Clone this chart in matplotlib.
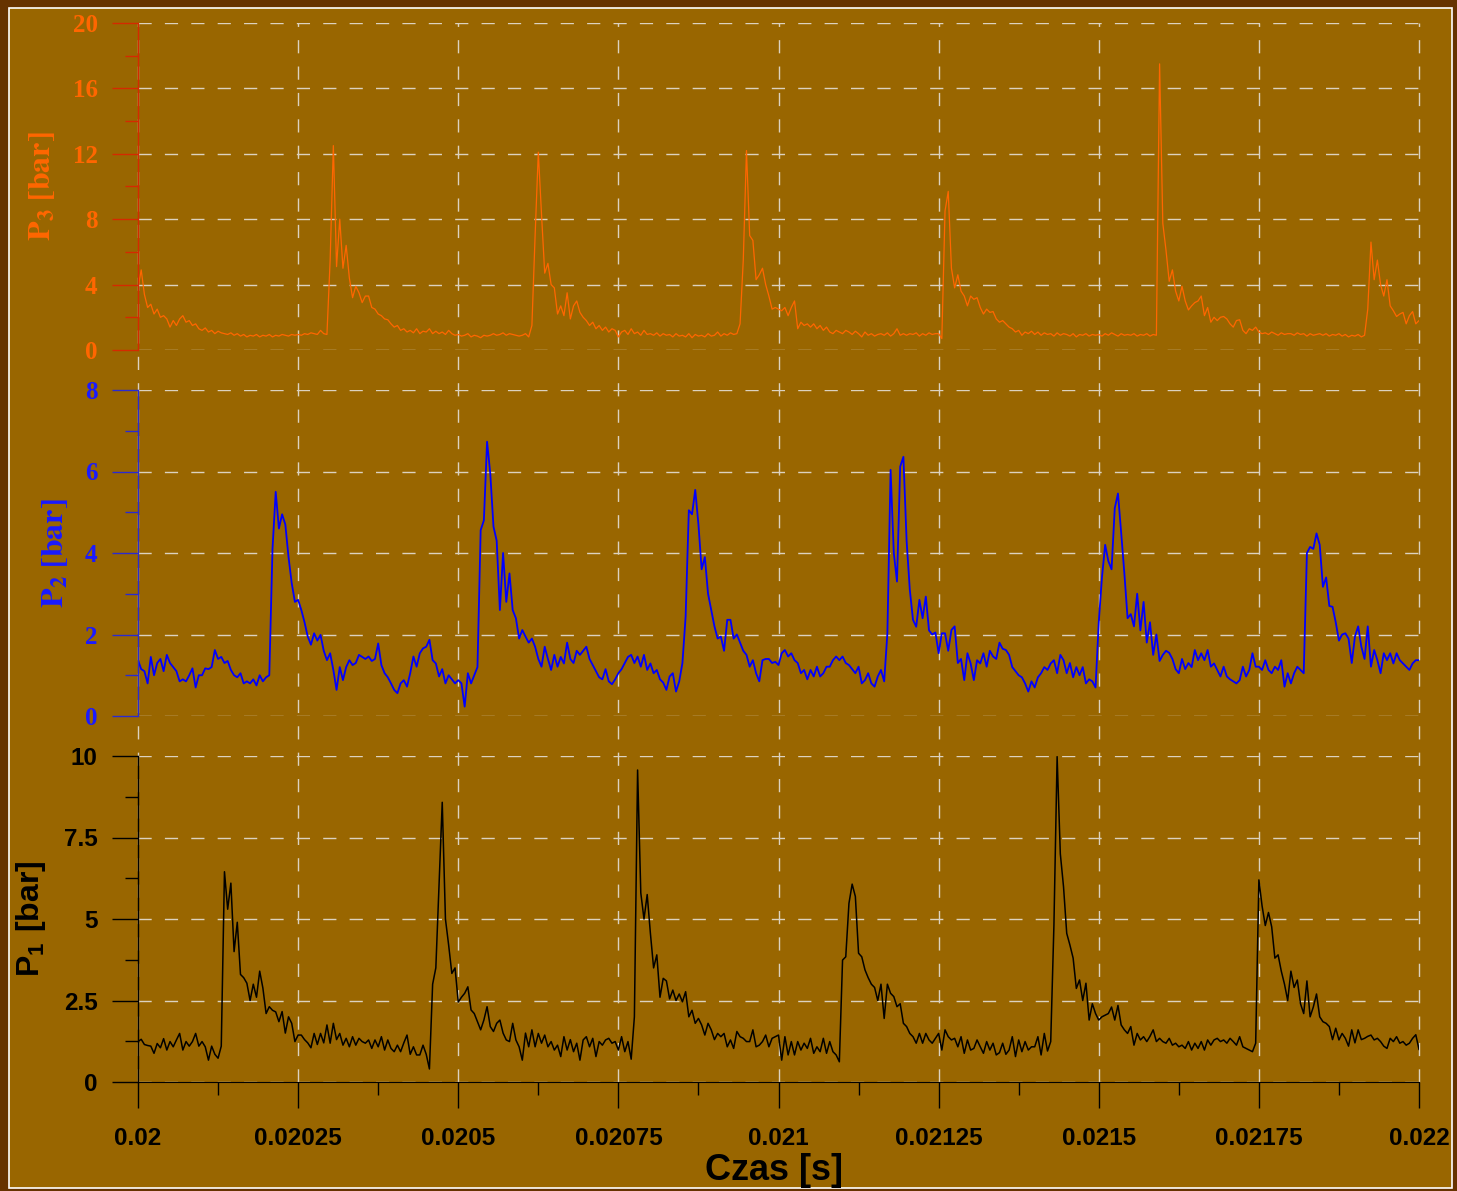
import numpy as np
import matplotlib
matplotlib.use("Agg")
import matplotlib.pyplot as plt
from matplotlib.patches import Rectangle
from matplotlib.ticker import MultipleLocator

# ── data: pressures sampled every 5 µs from t = 0.02 s ─────────────────────
T_START = 0.02
T_STEP = 5e-6

p3_bar = [
    3.8, 4.9, 3.4, 2.6, 2.8, 2.2, 2.5, 2.0, 2.1, 1.9,
    1.4, 1.8, 1.5, 1.9, 2.1, 1.7, 1.8, 1.5, 1.6, 1.3,
    1.2, 1.35, 1.1, 1.2, 1.0, 1.15, 1.05, 1.0, 0.95, 1.05,
    0.9, 1.0, 0.85, 0.95, 0.8, 0.9, 0.85, 0.95, 0.8, 0.9,
    0.85, 0.95, 0.8, 0.9, 0.85, 0.95, 0.9, 0.85, 0.95, 0.9,
    0.95, 0.9, 1.0, 0.95, 1.05, 1.0, 0.95, 1.2, 1.0, 0.95,
    5.5, 12.5, 5.1, 8.0, 5.0, 6.4, 4.4, 3.2, 3.9, 3.5,
    2.9, 3.3, 3.3, 2.6, 2.5, 2.2, 2.1, 1.9, 1.85, 1.6,
    1.4, 1.5, 1.2, 1.3, 1.1, 1.2, 1.05, 1.3, 1.0, 1.15,
    1.1, 1.3, 1.0, 1.15, 1.0, 1.1, 0.95, 1.2, 1.0, 0.9,
    0.95, 0.85, 0.9, 1.0, 0.8, 0.9, 0.85, 0.75, 0.9, 0.85,
    0.9, 1.0, 0.9, 0.95, 1.05, 0.9, 1.0, 0.95, 0.9, 0.85,
    0.9, 1.0, 0.8, 1.5, 7.0, 12.1, 8.3, 4.7, 5.3, 4.0,
    3.8, 2.2, 2.7, 2.1, 3.5, 1.9, 2.7, 3.0, 2.3, 2.0,
    1.8, 1.5, 1.7, 1.3, 1.5, 1.2, 1.4, 1.1, 1.3, 1.2,
    0.8, 1.1, 1.2, 0.95, 1.3, 1.0, 1.1, 0.9, 1.2, 0.95,
    1.0, 0.9, 1.05, 0.85, 1.0, 0.9, 0.95, 0.8, 1.0, 0.85,
    0.9, 0.8, 1.0, 0.75, 0.95, 0.85, 0.9, 0.8, 1.0, 0.85,
    0.9, 1.1, 0.85, 1.0, 0.9, 1.05, 0.95, 1.0, 1.6, 5.5,
    12.2, 7.0, 6.7, 4.3, 4.6, 5.0, 4.0, 3.3, 2.5, 2.6,
    2.5, 2.4, 2.6, 2.1, 2.6, 3.0, 1.3, 1.7, 1.5, 1.6,
    1.4, 1.6, 1.3, 1.5, 1.2, 1.4, 1.1, 1.0, 1.2, 1.1,
    1.0, 1.2, 1.1, 0.95, 1.15, 1.0, 0.8, 1.1, 0.9, 1.0,
    0.85, 0.95, 1.0, 0.9, 1.05, 0.85, 1.0, 1.3, 0.9, 1.0,
    0.9, 1.0, 0.95, 1.05, 0.85, 1.0, 0.9, 1.05, 0.95, 1.0,
    1.0, 0.7, 8.5, 9.7, 5.0, 3.8, 4.6, 3.6, 3.3, 2.7,
    3.3, 3.1, 3.2, 2.6, 2.2, 2.5, 2.3, 2.35, 1.9, 1.7,
    1.8, 1.6, 1.4, 1.3, 1.1, 1.2, 0.9, 1.1, 1.0, 1.15,
    0.95, 1.1, 0.9, 1.05, 0.95, 1.0, 0.85, 1.05, 0.9, 1.0,
    0.95, 0.85, 1.0, 0.8, 0.95, 0.9, 1.0, 0.85, 0.95, 0.9,
    0.95, 0.85, 1.0, 0.9, 1.05, 0.95, 0.85, 1.0, 0.9, 0.95,
    0.9, 1.0, 0.85, 0.95, 0.9, 1.0, 0.85, 0.95, 0.9, 17.5,
    7.75, 6.1, 4.2, 4.9, 3.6, 3.0, 3.9, 3.0, 2.45, 2.7,
    2.9, 3.0, 3.3, 2.1, 2.6, 1.7, 2.0, 1.8, 2.0, 2.05,
    1.9, 1.6, 1.4, 1.8, 1.85, 1.2, 1.0, 1.3, 1.2, 1.4,
    1.1, 1.0, 1.05, 0.95, 1.1, 1.0, 0.9, 1.05, 0.95, 1.0,
    1.0, 0.9, 1.05, 0.95, 1.0, 0.85, 1.0, 0.9, 0.95, 1.0,
    0.9, 1.0, 0.85, 0.95, 0.9, 1.0, 0.85, 0.95, 0.8, 0.9,
    0.85, 0.95, 0.8, 0.9, 2.5, 6.6, 4.3, 5.5, 4.0, 3.3,
    4.3, 2.7, 2.4, 2.05, 2.2, 2.3, 1.6, 2.1, 2.35, 1.6,
    1.8,
]

p2_bar = [
    1.37, 1.15, 1.1, 0.8, 1.45, 1.0, 1.3, 1.4, 1.1, 1.5,
    1.3, 1.2, 1.1, 0.85, 0.9, 0.85, 1.0, 1.17, 0.7, 1.0,
    1.0, 1.17, 1.15, 1.2, 1.62, 1.4, 1.45, 1.3, 1.35, 1.13,
    1.0, 0.95, 1.05, 0.8, 0.85, 0.8, 0.9, 0.75, 1.0, 0.85,
    0.95, 1.0, 4.1, 5.5, 4.6, 4.95, 4.7, 3.9, 3.26, 2.8,
    2.85, 2.6, 2.3, 1.95, 1.75, 2.03, 1.85, 1.99, 1.6, 1.37,
    1.54, 1.13, 0.64, 1.2, 0.88, 1.2, 1.37, 1.25, 1.3, 1.5,
    1.45, 1.4, 1.46, 1.35, 1.4, 1.78, 1.25, 1.05, 0.95, 0.8,
    0.64, 0.56, 0.8, 0.88, 0.72, 1.05, 1.46, 1.21, 1.54, 1.66,
    1.7, 1.87, 1.37, 1.29, 0.97, 1.15, 0.8, 1.0, 0.9, 0.8,
    0.88, 0.8, 0.23, 1.05, 0.8, 1.0, 1.2, 4.56, 4.8, 6.73,
    5.95, 4.65, 4.3, 2.6, 4.0, 2.8, 3.5, 2.6, 2.4, 1.9,
    2.11, 1.95, 1.8, 1.9, 1.7, 1.4, 1.21, 1.7, 1.4, 1.13,
    1.5, 1.21, 1.45, 1.29, 1.8, 1.4, 1.3, 1.6, 1.5, 1.6,
    1.7, 1.4, 1.25, 1.1, 0.95, 0.9, 1.15, 0.85, 0.78, 0.9,
    1.05, 1.15, 1.3, 1.45, 1.5, 1.3, 1.46, 1.21, 1.5, 1.13,
    1.29, 1.05, 1.13, 0.9, 0.82, 0.64, 0.97, 1.05, 0.6, 0.85,
    1.3, 2.44, 5.05, 4.95, 5.55, 4.7, 3.6, 3.9, 3.0, 2.6,
    2.2, 1.9, 1.95, 1.6, 2.36, 2.36, 1.9, 2.0, 1.8, 1.6,
    1.5, 1.21, 1.37, 1.05, 0.85, 1.37, 1.4, 1.4, 1.3, 1.33,
    1.25, 1.54, 1.62, 1.46, 1.54, 1.37, 1.3, 1.05, 1.13, 0.9,
    1.13, 0.97, 1.21, 0.97, 1.05, 1.21, 1.21, 1.37, 1.46, 1.37,
    1.46, 1.3, 1.25, 1.15, 1.05, 1.21, 0.8, 0.88, 1.05, 0.8,
    0.72, 0.97, 1.13, 0.85, 2.03, 6.04, 4.0, 3.3, 6.12, 6.36,
    4.3, 3.1, 2.36, 2.19, 2.85, 2.4, 2.93, 2.1, 2.0, 2.05,
    1.54, 2.03, 2.03, 1.6, 2.11, 2.2, 1.3, 1.4, 0.88, 1.54,
    1.29, 0.88, 1.37, 1.29, 1.54, 1.21, 1.6, 1.46, 1.4, 1.8,
    1.65, 1.62, 1.5, 1.2, 1.1, 1.0, 0.95, 0.8, 0.6, 0.85,
    0.7, 0.95, 1.05, 1.2, 1.13, 1.29, 1.37, 1.05, 1.5, 1.37,
    1.05, 1.3, 0.95, 1.2, 1.0, 1.2, 0.8, 0.9, 0.85, 0.7,
    2.3, 3.4, 4.2, 3.8, 3.6, 5.1, 5.46, 4.5, 3.5, 2.4,
    2.5, 2.2, 3.0, 2.1, 2.8, 1.8, 2.3, 1.5, 2.0, 1.35,
    1.5, 1.6, 1.55, 1.4, 1.15, 1.05, 1.4, 1.15, 1.3, 1.2,
    1.62, 1.37, 1.54, 1.37, 1.62, 1.21, 1.29, 1.13, 0.97, 1.21,
    0.97, 0.9, 0.85, 0.8, 0.88, 1.21, 0.97, 1.13, 1.54, 1.21,
    1.21, 1.13, 1.37, 1.13, 1.05, 1.21, 1.13, 1.37, 0.72, 1.05,
    0.8, 1.05, 1.21, 1.13, 1.05, 4.0, 4.15, 4.1, 4.48, 4.2,
    3.17, 3.4, 2.7, 2.68, 2.3, 1.85, 2.0, 2.03, 1.9, 1.3,
    1.95, 2.2, 1.7, 1.4, 2.2, 1.21, 1.62, 1.37, 1.05, 1.54,
    1.37, 1.54, 1.29, 1.54, 1.37, 1.29, 1.21, 1.13, 1.29, 1.37,
    1.37,
]

p1_bar = [
    1.24, 1.31, 1.15, 1.12, 1.1, 0.88, 1.18, 1.05, 1.33, 0.98,
    1.24, 1.08, 1.29, 1.49, 0.98, 1.24, 1.1, 1.24, 1.49, 1.1,
    1.24, 1.08, 0.67, 1.1, 0.85, 0.73, 1.1, 6.45, 5.3, 6.1,
    4.0, 4.9, 3.3, 3.2, 3.03, 2.5, 3.0, 2.6, 3.4, 2.88,
    2.1, 2.31, 2.2, 2.15, 1.85, 2.16, 1.5, 2.0, 1.8, 1.24,
    1.44, 1.44, 1.3, 1.2, 1.05, 1.49, 1.15, 1.49, 1.2, 1.75,
    1.19, 1.8, 1.3, 1.49, 1.13, 1.34, 1.08, 1.39, 1.13, 1.34,
    1.24, 1.19, 1.29, 1.03, 1.29, 1.08, 1.39, 0.98, 1.29, 1.03,
    0.93, 1.13, 0.93, 1.2, 1.44, 0.85, 1.08, 0.83, 0.83, 1.13,
    0.85, 0.4, 3.0, 3.5, 6.0, 8.58, 5.0, 4.2, 3.33, 3.5,
    2.45, 2.6, 2.72, 2.92, 2.21, 2.1, 1.85, 1.6, 1.9, 2.31,
    1.7, 1.55, 1.8, 1.9, 1.5, 1.29, 1.24, 1.8, 1.29, 1.08,
    0.67, 1.5, 1.08, 1.6, 1.08, 1.49, 1.19, 1.44, 1.08, 1.24,
    0.98, 1.13, 0.78, 1.39, 0.98, 1.3, 0.93, 1.19, 0.67, 1.29,
    1.39, 1.08, 1.34, 0.78, 1.24, 1.13, 1.29, 1.34, 1.19, 1.24,
    0.98, 1.39, 0.93, 1.24, 0.7, 2.0, 9.57, 5.8, 5.0, 5.75,
    4.56, 3.5, 3.9, 2.6, 3.18, 3.1, 2.55, 2.82, 2.5, 2.7,
    2.46, 2.77, 2.0, 2.2, 1.8, 1.95, 1.75, 1.44, 1.8, 1.6,
    1.3, 1.49, 1.39, 1.49, 1.08, 1.29, 1.03, 1.55, 1.39, 1.34,
    1.24, 1.24, 1.6, 1.08, 1.13, 1.24, 1.44, 1.08, 1.34, 1.39,
    1.44, 0.67, 1.39, 0.83, 1.24, 0.83, 1.24, 0.98, 1.19, 1.03,
    1.34, 0.88, 1.08, 0.93, 1.34, 0.88, 1.24, 0.93, 0.83, 0.62,
    3.74, 3.84, 5.48, 6.07, 5.69, 3.95, 3.84, 3.44, 3.2, 3.0,
    2.9, 2.5, 3.0, 1.95, 3.0, 2.72, 2.62, 2.31, 2.4, 1.8,
    1.7, 1.49, 1.39, 1.19, 1.49, 1.19, 1.49, 1.29, 1.19, 1.34,
    1.49, 0.98, 1.6, 1.39, 1.29, 1.34, 1.08, 1.39, 0.88, 1.29,
    0.98, 1.03, 1.29, 1.08, 0.88, 1.24, 0.98, 1.19, 0.83, 0.9,
    1.19, 0.85, 0.98, 1.39, 0.78, 1.29, 0.93, 1.24, 0.98, 1.08,
    1.08, 1.39, 0.83, 1.49, 0.95, 1.24, 4.8, 9.98, 7.0, 5.99,
    4.56, 4.2, 3.8, 2.87, 3.13, 2.5, 3.03, 1.9, 2.4, 2.1,
    1.9, 2.0, 2.05, 2.1, 2.3, 1.9, 2.35, 1.75, 1.6, 1.49,
    1.7, 1.13, 1.49, 1.29, 1.39, 1.24, 1.4, 1.6, 1.24, 1.34,
    1.24, 1.19, 1.34, 1.13, 1.19, 1.08, 1.13, 1.03, 1.24, 0.98,
    1.19, 1.03, 1.24, 0.98, 1.29, 1.13, 1.29, 1.34, 1.24, 1.29,
    1.19, 1.34, 1.24, 1.13, 1.39, 1.08, 1.03, 0.98, 0.93, 1.19,
    6.2, 5.4, 4.8, 5.2, 4.76, 3.8, 3.9, 3.4, 3.0, 2.5,
    3.4, 2.9, 3.13, 2.4, 2.1, 3.1, 2.0, 2.3, 2.7, 2.0,
    1.85, 1.8, 1.7, 1.3, 1.65, 1.29, 1.49, 1.34, 1.1, 1.6,
    1.2, 1.6, 1.3, 1.34, 1.4, 1.44, 1.29, 1.34, 1.24, 1.1,
    1.03, 1.34, 1.24, 1.39, 1.19, 1.24, 1.13, 1.19, 1.34, 1.45,
    1.0,
]

x_ticks = [0.02, 0.02025, 0.0205, 0.02075, 0.021, 0.02125, 0.0215, 0.02175, 0.022]
x_labels = ["0.02", "0.02025", "0.0205", "0.02075", "0.021",
            "0.02125", "0.0215", "0.02175", "0.022"]
p3_ticks = [0, 4, 8, 12, 16, 20]
p2_ticks = [0, 2, 4, 6, 8]
p1_ticks = [0, 2.5, 5, 7.5, 10]
p1_labels = ["0", "2.5", "5", "7.5", "10"]

assert len(p3_bar) == len(p2_bar) == len(p1_bar) == 401
t = T_START + T_STEP * np.arange(len(p1_bar))

# ── styling ───────────────────────────────────────────────────────────────
BG = "#996600"
FRAME = "#663300"
GRID = "#dcd2c0"
ORANGE = "#ff6600"
RED = "#d42a00"
BLUE = "#1a1aff"
BLUE_AX = "#2a2ad0"
SERIF = "Liberation Serif"
SANS = "Liberation Sans"
DASH = (0, (9.5, 9.5))

plt.rcParams["mathtext.bf"] = "Liberation Sans:bold"
plt.rcParams["mathtext.rm"] = "Liberation Sans"

W, H = 1457, 1191
fig = plt.figure(figsize=(W / 100, H / 100), dpi=100, facecolor=FRAME)
fig.patches.append(Rectangle((9 / W, 1 - 1188 / H), (1452 - 9) / W, (1188 - 8) / H,
                             transform=fig.transFigure, facecolor=BG,
                             edgecolor="white", lw=1.2, zorder=0))


def px_axes(left, top, right, bottom, z):
    ax = fig.add_axes([left / W, 1 - bottom / H, (right - left) / W, (bottom - top) / H])
    ax.set_zorder(z)
    ax.patch.set_visible(False)
    return ax


# vertical dashed grid running through all three panels
bg = px_axes(138, 23, 1419, 1082, 1)
bg.set_xlim(T_START, 0.022)
bg.set_ylim(0, 1)
bg.axis("off")
for xv in x_ticks:
    bg.axvline(xv, color=GRID, lw=1.0, ls=DASH, clip_on=False)


def style_panel(ax, ticks, labels, minor, ax_color, lbl_color, family, top_val, size):
    ax.set_xlim(T_START, 0.022)
    ax.set_ylim(0, top_val)
    for s in ("top", "right", "bottom"):
        ax.spines[s].set_visible(False)
    ax.spines["left"].set_color(ax_color)
    ax.spines["left"].set_linewidth(1.0)
    ax.set_yticks(ticks, labels=labels)
    ax.yaxis.set_minor_locator(MultipleLocator(minor))
    ax.tick_params(axis="y", which="major", direction="out", length=19, width=1.0,
                   color=ax_color, labelcolor=lbl_color, labelsize=size, pad=10)
    ax.tick_params(axis="y", which="minor", direction="out", length=9.5, width=1.0,
                   color=ax_color)
    ax.tick_params(axis="x", which="both", bottom=False, labelbottom=False)
    plt.setp(ax.get_yticklabels(), family=family, weight="bold")
    ax.grid(axis="y", color=GRID, lw=1.0, ls=DASH)


# P3 — top
ax3 = px_axes(138, 23, 1419, 350, 3)
ax3.plot(t, p3_bar, color=ORANGE, lw=0.9)
style_panel(ax3, p3_ticks, [str(v) for v in p3_ticks], 2, RED, ORANGE, SERIF, 20, 18)
ax3.set_ylabel(r"$\mathbf{P_3\ [bar]}$", color=ORANGE, fontsize=23,
               math_fontfamily="stix", va="center")
ax3.yaxis.set_label_coords((42 - 138) / 1281, 0.5)

# P2 — middle
ax2 = px_axes(138, 390, 1419, 716, 3)
ax2.plot(t, p2_bar, color="#0000ff", lw=1.3)
style_panel(ax2, p2_ticks, [str(v) for v in p2_ticks], 1, BLUE_AX, BLUE, SERIF, 8, 18)
ax2.set_ylabel(r"$\mathbf{P_2\ [bar]}$", color=BLUE, fontsize=23,
               math_fontfamily="stix", va="center")
ax2.yaxis.set_label_coords((55 - 138) / 1281, 0.5)

# P1 — bottom
ax1 = px_axes(138, 756, 1419, 1082, 3)
ax1.plot(t, p1_bar, color="black", lw=1.1)
style_panel(ax1, p1_ticks, p1_labels, 1.25, "black", "black", SANS, 10, 17.5)
ax1.spines["bottom"].set_visible(True)
ax1.spines["bottom"].set_color("black")
ax1.set_xticks(x_ticks, labels=x_labels)
ax1.xaxis.set_minor_locator(MultipleLocator(0.000125))
ax1.tick_params(axis="x", which="major", bottom=True, labelbottom=True, direction="out",
                length=19, width=1.0, color="black", labelsize=17.5, pad=13.5)
ax1.tick_params(axis="x", which="minor", bottom=True, direction="out",
                length=9.5, width=1.0, color="black")
plt.setp(ax1.get_xticklabels(), family=SANS, weight="bold")
ax1.set_ylabel(r"$\mathbf{P_1\ [bar]}$", color="black", fontsize=23,
               math_fontfamily="custom", va="center")
ax1.yaxis.set_label_coords((31 - 138) / 1281, 0.5)

fig.text(774 / W, 1 - 1180 / H, "Czas [s]", ha="center", va="baseline",
         family=SANS, weight="bold", fontsize=26, color="black")

fig.savefig("out.png", dpi=100, facecolor=FRAME)
